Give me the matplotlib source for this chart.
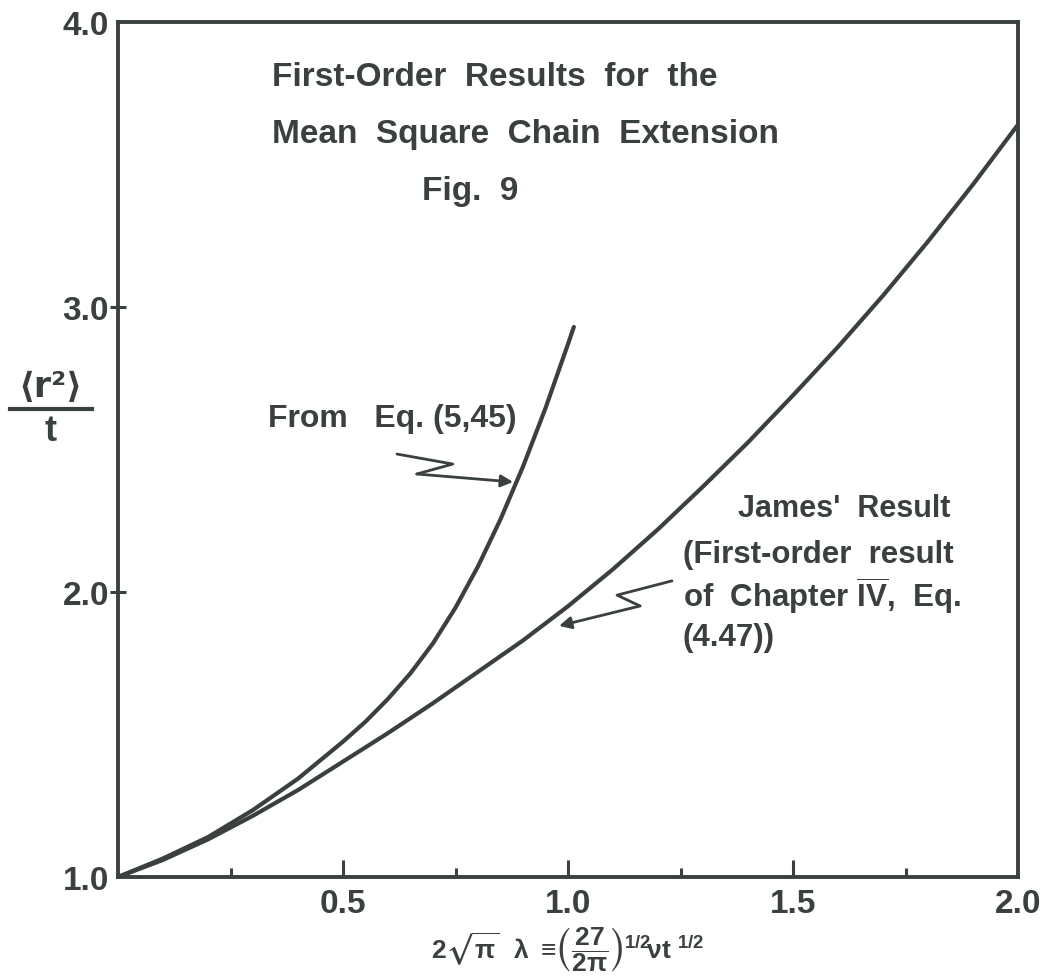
import matplotlib
matplotlib.use("Agg")
import matplotlib.pyplot as plt
from matplotlib.lines import Line2D

# ---------------- data ----------------
james_x = [0.0, 0.1, 0.2, 0.3, 0.4, 0.5, 0.6, 0.7, 0.8, 0.9, 1.0,
           1.1, 1.2, 1.3, 1.4, 1.5, 1.6, 1.7, 1.8, 1.9, 2.0]
james_y = [1.0, 1.060, 1.132, 1.215, 1.305, 1.405, 1.505, 1.610, 1.720, 1.830, 1.950,
           2.080, 2.220, 2.370, 2.525, 2.690, 2.860, 3.040, 3.230, 3.430, 3.640]

eq_x = [0.0, 0.1, 0.2, 0.3, 0.4, 0.45, 0.5, 0.55, 0.6, 0.65, 0.7, 0.75, 0.8,
        0.85, 0.9, 0.95, 1.0, 1.013]
eq_y = [1.0, 1.065, 1.140, 1.235, 1.345, 1.410, 1.475, 1.545, 1.625, 1.715, 1.820,
        1.945, 2.090, 2.255, 2.440, 2.645, 2.870, 2.930]

x_major = [0.5, 1.0, 1.5, 2.0]
x_major_labels = ["0.5", "1.0", "1.5", "2.0"]
x_minor = [0.25, 0.75, 1.25, 1.75]
y_major = [1.0, 2.0, 3.0, 4.0]
y_major_labels = ["1.0", "2.0", "3.0", "4.0"]

title_lines = ["First-Order  Results  for  the",
               "Mean  Square  Chain  Extension",
               "Fig.  9"]
eq_label = "From   Eq. (5,45)"
james_lines = ["James'  Result",
               "(First-order  result",
               "of  Chapter $\\overline{\\mathrm{IV}}$,  Eq.",
               "(4.47))"]

# annotation leader paths (data coordinates)
eq_arrow_x = [0.620, 0.744, 0.664, 0.878]
eq_arrow_y = [2.484, 2.449, 2.414, 2.386]
james_arrow_x = [1.231, 1.109, 1.160, 0.980]
james_arrow_y = [2.039, 1.989, 1.951, 1.881]

# ---------------- style ----------------
INK = "#3a3f3f"
FAM = ["Liberation Sans", "DejaVu Sans"]
plt.rcParams["font.family"] = FAM
plt.rcParams["font.weight"] = "bold"
plt.rcParams["mathtext.fontset"] = "custom"
plt.rcParams["mathtext.rm"] = "Liberation Sans:bold"
plt.rcParams["mathtext.it"] = "Liberation Sans:bold"
plt.rcParams["mathtext.bf"] = "Liberation Sans:bold"
plt.rcParams["mathtext.sf"] = "Liberation Sans:bold"
plt.rcParams["mathtext.fallback"] = "stixsans"

W, H = 1052, 979
fig = plt.figure(figsize=(W / 100, H / 100), dpi=100)
fig.patch.set_facecolor("white")


def P(px, py):
    return px / W, 1 - py / H


ax = fig.add_axes([118 / W, 1 - 878 / H, (1018 - 118) / W, (878 - 23) / H])
ax.set_xlim(0, 2.0)
ax.set_ylim(1.0, 4.0)

for s in ax.spines.values():
    s.set_linewidth(2.8)
    s.set_color(INK)

ax.plot(james_x, james_y, color=INK, lw=3.0, solid_capstyle="round",
        solid_joinstyle="round", zorder=3)
ax.plot(eq_x, eq_y, color=INK, lw=3.0, solid_capstyle="round",
        solid_joinstyle="round", zorder=3)

# ticks
ax.set_xticks(x_major)
ax.set_xticklabels(x_major_labels)
ax.set_xticks(x_minor, minor=True)
ax.set_yticks(y_major)
ax.set_yticklabels(y_major_labels)
ax.tick_params(axis="x", which="major", direction="in", length=12, width=2.2,
               color=INK, labelcolor=INK, labelsize=24, pad=8)
ax.tick_params(axis="x", which="minor", direction="in", length=6.5, width=2.2,
               color=INK)
ax.tick_params(axis="y", which="major", direction="inout", length=11, width=2.2,
               color=INK, labelcolor=INK, labelsize=24, pad=1)
yt = ax.yaxis.get_major_ticks()
yt[0].tick1line.set_visible(False)
yt[-1].tick1line.set_visible(False)
ax.xaxis.get_major_ticks()[-1].tick1line.set_visible(False)
for lab in ax.get_xticklabels() + ax.get_yticklabels():
    lab.set_fontweight("bold")

# annotation leaders
for xs, ys in ((eq_arrow_x, eq_arrow_y), (james_arrow_x, james_arrow_y)):
    ax.plot(xs[:-1], ys[:-1], color=INK, lw=2.0, solid_joinstyle="round",
            solid_capstyle="round", zorder=4)
    ax.annotate("", xy=(xs[-1], ys[-1]), xytext=(xs[-2], ys[-2]),
                arrowprops=dict(arrowstyle="-|>", color=INK, lw=2.0,
                                mutation_scale=18, shrinkA=0, shrinkB=0),
                zorder=4)

# title block
fig.text(*P(272, 77), title_lines[0], fontsize=24, color=INK, ha="left", va="center",
         fontweight="bold")
fig.text(*P(272, 135), title_lines[1], fontsize=24, color=INK, ha="left", va="center",
         fontweight="bold")
fig.text(*P(422, 192), title_lines[2], fontsize=24, color=INK, ha="left", va="center",
         fontweight="bold")

# curve labels
fig.text(*P(268, 419), eq_label, fontsize=23, color=INK, ha="left", va="center",
         fontweight="bold")
fig.text(*P(738, 509), james_lines[0], fontsize=22, color=INK, ha="left", va="center",
         fontweight="bold")
fig.text(*P(683, 555), james_lines[1], fontsize=22.5, color=INK, ha="left", va="center",
         fontweight="bold")
fig.text(*P(683, 596), james_lines[2], fontsize=22.5, color=INK, ha="left", va="center",
         fontweight="bold")
fig.text(*P(683, 638), james_lines[3], fontsize=22.5, color=INK, ha="left", va="center",
         fontweight="bold")

# y-axis label as a stacked fraction
fig.text(*P(50, 387), "\u27e8r\u00b2\u27e9", fontsize=25, color=INK, ha="center",
         va="center", fontweight="bold", family=["DejaVu Sans"])
fig.add_artist(Line2D([10 / W, 92 / W], [1 - 410 / H, 1 - 410 / H], color=INK, lw=3,
                      transform=fig.transFigure))
fig.text(*P(51, 432), "t", fontsize=26, color=INK, ha="center", va="center",
         fontweight="bold")

# x-axis label
fig.text(*P(568, 950),
         r"$2\sqrt{\pi}\ \ \lambda\ \equiv\!\left(\dfrac{27}{2\pi}\right)^{1/2}\!\nu t^{\ 1/2}$",
         fontsize=19, color=INK, ha="center", va="center")

fig.savefig("out.png", dpi=100, facecolor="white")
